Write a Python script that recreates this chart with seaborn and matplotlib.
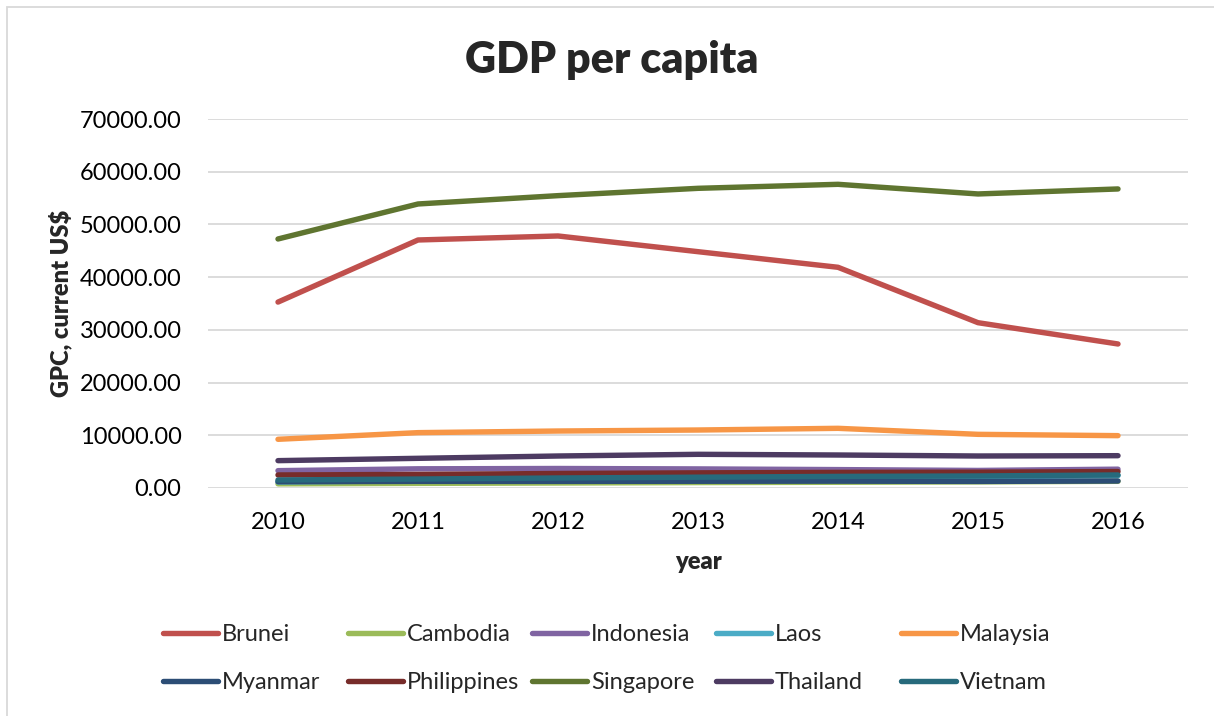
import matplotlib
matplotlib.use("Agg")
import matplotlib.pyplot as plt
import matplotlib.ticker as mticker
from matplotlib.patches import Rectangle
from matplotlib.lines import Line2D
import seaborn as sns
import pandas as pd

years = [2010, 2011, 2012, 2013, 2014, 2015, 2016]

brunei = [35270, 47050, 47810, 44830, 41870, 31360, 27320]
cambodia = [790, 880, 950, 1030, 1090, 1160, 1270]
indonesia = [3290, 3640, 3700, 3620, 3490, 3330, 3570]
laos = [1140, 1370, 1580, 1830, 1990, 2130, 2340]
malaysia = [9240, 10500, 10810, 11000, 11320, 10180, 9930]
myanmar = [1200, 1260, 1260, 1280, 1300, 1250, 1330]
philippines = [2470, 2580, 2750, 2870, 2960, 3000, 3120]
singapore = [47240, 53880, 55460, 56850, 57610, 55780, 56730]
thailand = [5190, 5630, 6070, 6390, 6260, 6070, 6130]
vietnam = [1520, 1700, 1900, 2050, 2200, 2280, 2470]

countries = ["Brunei", "Cambodia", "Indonesia", "Laos", "Malaysia",
             "Myanmar", "Philippines", "Singapore", "Thailand", "Vietnam"]
series = [brunei, cambodia, indonesia, laos, malaysia,
          myanmar, philippines, singapore, thailand, vietnam]
colors = ["#C0504D", "#9BBB59", "#8064A2", "#4BACC6", "#F79646",
          "#2C4D75", "#772C2A", "#5F7530", "#4D3B62", "#276A7C"]

yticks = [0, 10000, 20000, 30000, 40000, 50000, 60000, 70000]

df = pd.DataFrame({
    "year": years * len(countries),
    "gpc": [v for s in series for v in s],
    "country": [c for c in countries for _ in years],
})

sns.set_theme(style="white")
plt.rcParams["font.family"] = ["Lato", "DejaVu Sans"]

W, H = 1214, 716
fig = plt.figure(figsize=(W / 100, H / 100), dpi=100)
ax = fig.add_axes([208 / W, 1 - 488 / H, (1188 - 208) / W, (488 - 119) / H])

palette = dict(zip(countries, colors))
sns.lineplot(data=df, x="year", y="gpc", hue="country", hue_order=countries,
             palette=palette, linewidth=3.9, legend=False, ax=ax,
             solid_capstyle="round", zorder=3)

ax.set_xlim(years[0] - 0.5, years[-1] + 0.5)
ax.set_ylim(yticks[0], yticks[-1])
ax.set_xticks(years)
ax.set_xticklabels([str(y) for y in years])
ax.set_yticks(yticks)
ax.yaxis.set_major_formatter(mticker.StrMethodFormatter("{x:.2f}"))
ax.tick_params(axis="x", length=0, pad=17, labelsize=17, colors="black")
ax.tick_params(axis="y", length=0, pad=19, labelsize=17, colors="black")

ax.grid(axis="y", color="#d9d9d9", linewidth=1.3, zorder=0)
ax.grid(axis="x", visible=False)
for s in ax.spines.values():
    s.set_visible(False)

ax.set_xlabel("year", fontsize=17, fontweight="heavy", labelpad=13)
ax.set_ylabel("GPC, current US$", fontsize=17, fontweight="heavy", labelpad=5)

fig.text(612 / W, 1 - 60 / H, "GDP per capita", ha="center", va="center",
         fontsize=31, fontweight="heavy")

# chart-area frame
fig.patches.append(Rectangle((7 / W, -0.1), 1.2, 1 - 7 / H + 0.1,
                             transform=fig.transFigure, fill=False,
                             edgecolor="#d9d9d9", linewidth=1.3))

# legend: five equal-width columns, two rows
col_x = [163, 348, 532, 716, 901]
for i, x0 in enumerate(col_x):
    idx = [i, i + 5]
    handles = [Line2D([0], [0], color=colors[j], linewidth=3.9,
                      solid_capstyle="round") for j in idx]
    labels = [countries[j] for j in idx]
    fig.legend(handles, labels, loc="upper left",
               bbox_to_anchor=(x0 / W, 1 - 624 / H),
               frameon=False, fontsize=17, handlelength=2.35,
               handletextpad=0.15, labelspacing=1.15,
               borderpad=0, borderaxespad=0)

fig.savefig("out.png", dpi=100)
